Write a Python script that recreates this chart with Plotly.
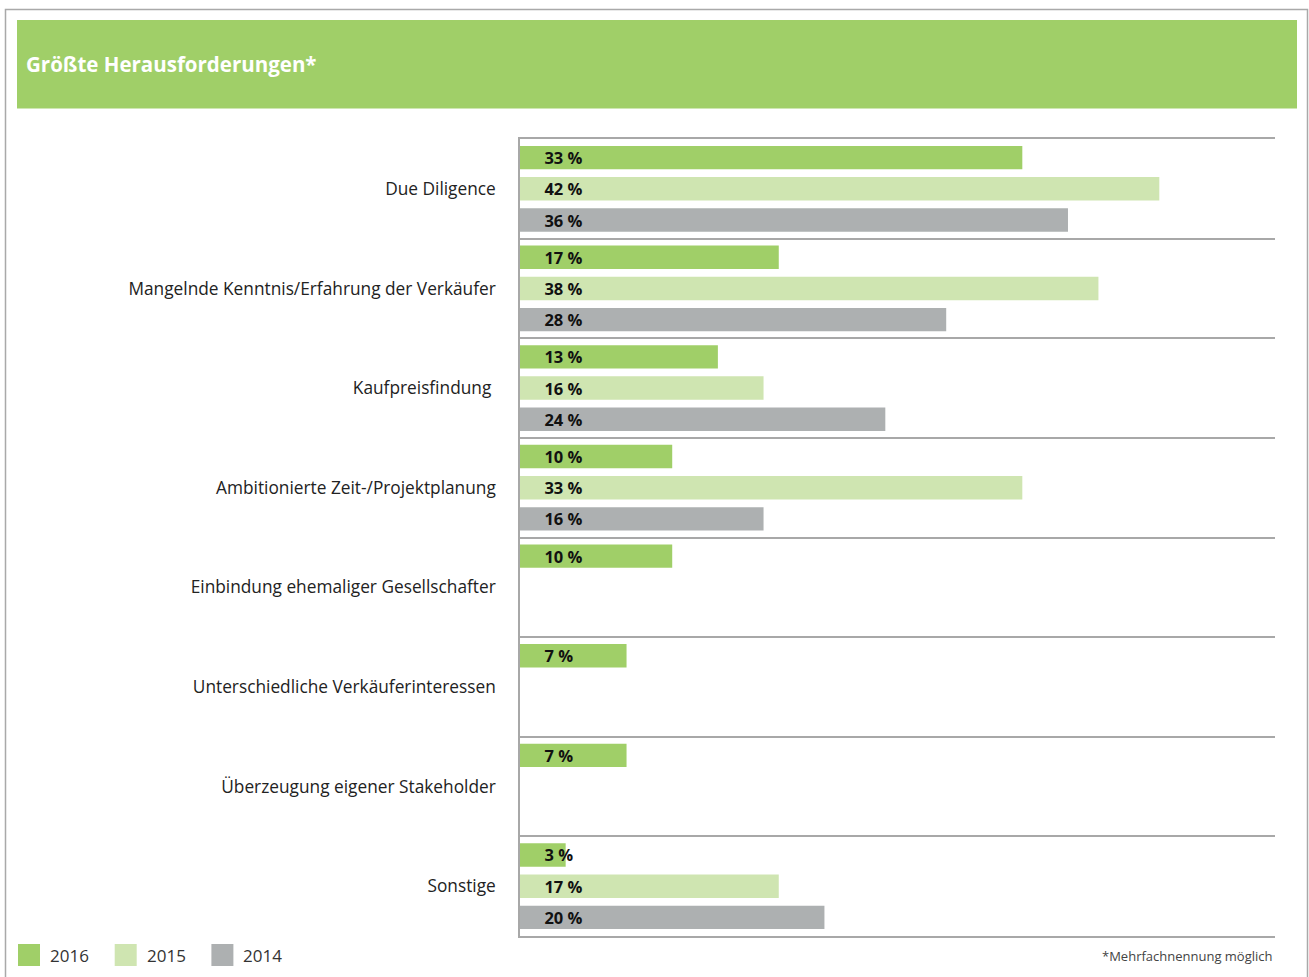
import plotly.graph_objects as go

# --- data -------------------------------------------------------------
categories = [
    "Due Diligence",
    "Mangelnde Kenntnis/Erfahrung der Verkäufer",
    "Kaufpreisfindung\u00a0",
    "Ambitionierte Zeit-/Projektplanung",
    "Einbindung ehemaliger Gesellschafter",
    "Unterschiedliche Verkäuferinteressen",
    "Überzeugung eigener Stakeholder",
    "Sonstige",
]
years = ["2016", "2015", "2014"]
values_2016 = [33, 17, 13, 10, 10, 7, 7, 3]
values_2015 = [42, 38, 16, 33, None, None, None, 17]
values_2014 = [36, 28, 24, 16, None, None, None, 20]
series = [values_2016, values_2015, values_2014]
colors = ["#a0cf68", "#cfe5b1", "#adb0b1"]

title_text = "Größte Herausforderungen*"
footnote = "*Mehrfachnennung möglich"

# --- geometry of the page --------------------------------------------
W, H = 1309, 977
L, R, T, B = 520, 34, 139, 41
PW, PH = W - L - R, H - T - B
GRID = "#a8a8a8"
FONT = "Open Sans"


def px(x):
    return (x - L) / PW


def py(y):
    return (H - B - y) / PH


fig = go.Figure()

pad = "\u00a0" * 5
for name, vals, col in zip(years, series, colors):
    fig.add_trace(go.Bar(
        y=categories,
        x=vals,
        name=name,
        orientation="h",
        marker=dict(color=col, line=dict(width=0)),
        texttemplate=pad + "%{x}\u00a0%",
        textposition="inside",
        insidetextanchor="start",
        constraintext="none",
        insidetextfont=dict(family=FONT, size=16.5, color="#111111", weight="bold"),
        cliponaxis=False,
        hoverinfo="skip",
        showlegend=False,
    ))

shapes = []
annotations = []

# outer frame and header band
shapes.append(dict(type="rect", xref="paper", yref="paper",
                   x0=px(5.5), x1=px(1307.5), y0=py(9.5), y1=py(1000),
                   line=dict(color="#a9a9a9", width=1.5), fillcolor="rgba(0,0,0,0)",
                   layer="below"))
shapes.append(dict(type="rect", xref="paper", yref="paper",
                   x0=px(17), x1=px(1297), y0=py(20), y1=py(108.5),
                   line=dict(width=0), fillcolor="#a0cf68", layer="below"))
annotations.append(dict(text=title_text, xref="paper", yref="paper",
                        x=px(23.5), y=py(64), xanchor="left", yanchor="middle",
                        showarrow=False,
                        font=dict(family=FONT, size=20.5, color="white", weight="bold")))

# legend drawn as swatches with labels
for i, (name, col) in enumerate(zip(years, colors)):
    x0 = 18 + i * 96.7
    shapes.append(dict(type="rect", xref="paper", yref="paper",
                       x0=px(x0), x1=px(x0 + 22), y0=py(944), y1=py(966),
                       line=dict(width=0), fillcolor=col))
    annotations.append(dict(text=name, xref="paper", yref="paper",
                            x=px(x0 + 30), y=py(955), xanchor="left", yanchor="middle",
                            showarrow=False,
                            font=dict(family=FONT, size=17, color="#333333")))

annotations.append(dict(text=footnote, xref="paper", yref="paper",
                        x=px(1275), y=py(956), xanchor="right", yanchor="middle",
                        showarrow=False,
                        font=dict(family=FONT, size=13, color="#444444")))

fig.update_layout(
    width=W, height=H,
    margin=dict(l=L, r=R, t=T, b=B, pad=0),
    paper_bgcolor="white", plot_bgcolor="white",
    barmode="group", bargap=0.06, bargroupgap=0.25,
    showlegend=False,
    shapes=shapes, annotations=annotations,
    xaxis=dict(range=[0, 49.6], showgrid=False, zeroline=False,
               showticklabels=False, ticks="",
               showline=True, mirror=True, linecolor=GRID, linewidth=1.5),
    yaxis=dict(type="category", categoryorder="array", categoryarray=categories,
               autorange="reversed", tickson="boundaries",
               showgrid=True, gridcolor=GRID, gridwidth=1.5,
               showline=True, linecolor=GRID, linewidth=1.5,
               ticks="", ticklabelstandoff=19,
               tickfont=dict(family=FONT, size=17.3, color="#222222")),
)

fig.write_html("out.html")
